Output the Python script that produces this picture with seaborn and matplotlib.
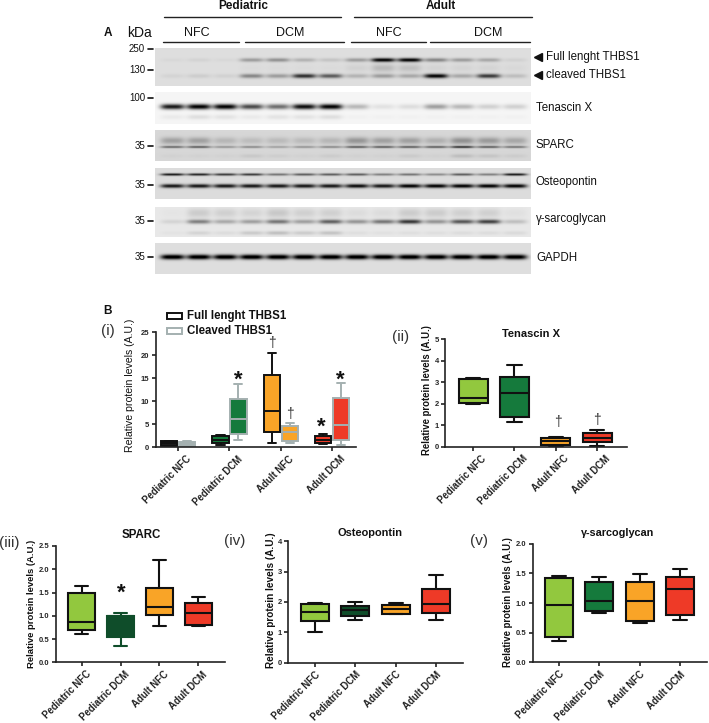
import matplotlib

matplotlib.use("Agg")
import matplotlib.pyplot as plt
from matplotlib.patches import Rectangle
from matplotlib.transforms import ScaledTranslation
import numpy as np
import pandas as pd
import seaborn as sns

W, H = 709, 723
GROUPS = ["Pediatric NFC", "Pediatric DCM", "Adult NFC", "Adult DCM"]

# five-number summaries: min, q1, median, q3, max
THBS_FULL = [
    [0.1, 0.2, 0.8, 1.2, 1.4],
    [0.5, 0.9, 1.6, 2.4, 2.6],
    [0.8, 3.2, 7.9, 15.8, 20.4],
    [0.6, 0.8, 1.5, 2.5, 2.9],
]
THBS_CLEAVED = [
    [0.1, 0.2, 0.9, 1.1, 1.2],
    [1.5, 2.9, 6.0, 10.4, 13.7],
    [0.9, 1.4, 3.2, 4.6, 5.2],
    [0.4, 1.5, 4.8, 10.6, 13.9],
]
TENASCIN = [
    [2.0, 2.05, 2.25, 3.15, 3.2],
    [1.15, 1.37, 2.5, 3.25, 3.8],
    [0.05, 0.1, 0.28, 0.4, 0.47],
    [0.05, 0.2, 0.4, 0.65, 0.77],
]
SPARC = [
    [0.6, 0.69, 0.86, 1.49, 1.64],
    [0.34, 0.54, 1.0, 1.0, 1.07],
    [0.77, 1.02, 1.18, 1.6, 2.2],
    [0.77, 0.81, 1.05, 1.28, 1.4],
]
OSTEOPONTIN = [
    [1.02, 1.36, 1.67, 1.94, 1.98],
    [1.42, 1.55, 1.72, 1.87, 2.0],
    [1.6, 1.62, 1.78, 1.9, 1.98],
    [1.42, 1.63, 1.92, 2.43, 2.9],
]
SARCOGLYCAN = [
    [0.36, 0.42, 0.97, 1.43, 1.46],
    [0.83, 0.86, 1.03, 1.35, 1.44],
    [0.67, 0.7, 1.03, 1.35, 1.49],
    [0.72, 0.79, 1.23, 1.44, 1.58],
]

# band darkness per lane on the blots (14 lanes)
FULL_BAND = [0.03, 0.05, 0.03, 0.30, 0.35, 0.20, 0.12, 0.30, 1.0, 1.0, 0.40, 0.30, 0.25, 0.06]
CLEAVED_BAND = [0.05, 0.08, 0.06, 0.40, 0.30, 0.80, 0.60, 0.20, 0.30, 0.25, 1.0, 0.25, 0.75, 0.15]
THBS_SMEAR = [0.0, 0.0, 0.0, 0.02, 0.02, 0.02, 0.02, 0.06, 0.18, 0.15, 0.05, 0.05, 0.05, 0.03]
TENASCIN_BAND = [0.9, 1.0, 1.0, 0.7, 0.55, 0.95, 1.0, 0.25, 0.08, 0.1, 0.35, 0.25, 0.15, 0.15]
TENASCIN_LOW = [0.05, 0.1, 0.08, 0.05, 0.08, 0.08, 0.1, 0.02, 0.02, 0.02, 0.02, 0.02, 0.02, 0.02]
SPARC_BROAD = [0.25, 0.25, 0.15, 0.12, 0.13, 0.13, 0.15, 0.3, 0.25, 0.25, 0.18, 0.32, 0.28, 0.22]
SPARC_SHARP = [0.5, 0.55, 0.3, 0.35, 0.25, 0.3, 0.35, 0.55, 0.55, 0.55, 0.55, 0.75, 0.55, 0.45]
SPARC_LOW = [0.03, 0.03, 0.03, 0.08, 0.05, 0.03, 0.06, 0.03, 0.03, 0.07, 0.03, 0.14, 0.1, 0.06]
OSTEO_UPPER = [0.85, 0.8, 0.7, 0.7, 0.45, 0.55, 0.55, 0.55, 0.4, 0.45, 0.35, 0.55, 0.4, 0.85]
OSTEO_LOWER = [0.9, 0.9, 0.9, 0.9, 0.9, 0.9, 0.9, 0.95, 0.9, 1.0, 1.0, 1.0, 1.0, 1.0]
GAMMA_BAND = [0.1, 0.5, 0.3, 0.35, 0.55, 0.35, 0.65, 0.4, 0.55, 0.85, 0.4, 0.7, 0.8, 0.2]
GAMMA_SMEAR = [0.02, 0.14, 0.12, 0.1, 0.16, 0.12, 0.12, 0.06, 0.06, 0.14, 0.14, 0.12, 0.12, 0.04]
GAMMA_LOW = [0.03, 0.1, 0.06, 0.15, 0.2, 0.14, 0.18, 0.05, 0.04, 0.05, 0.05, 0.06, 0.06, 0.07]
GAPDH_BAND = [1.0] * 14

LIME, GREEN, DEEP, ORANGE, RED = "#92c83e", "#157a3c", "#0f4d2a", "#f9a427", "#ee3a27"
GREY = "#a4b0b0"
INK = "#111111"


def px_axes(fig, left, right, bottom, top):
    return fig.add_axes([left / W, 1 - bottom / H, (right - left) / W, (bottom - top) / H])


def to_frame(rows, kind="full"):
    records = [
        {"group": g, "kind": kind, "value": v} for g, row in zip(GROUPS, rows) for v in row
    ]
    return pd.DataFrame(records)


def paint(container, faces, edges):
    for i, (face, edge) in enumerate(zip(faces, edges)):
        container.boxes[i].set_facecolor(face)
        container.boxes[i].set_edgecolor(edge)
        container.medians[i].set_color(edge)
        for line in container.whiskers[2 * i:2 * i + 2] + container.caps[2 * i:2 * i + 2]:
            line.set_color(edge)


def style_panel(ax, ylim, yticks, xlim, label_shift=0):
    ax.set_ylim(*ylim)
    ax.set_xlim(*xlim)
    ax.set_yticks(yticks)
    ax.set_xlabel("")
    ax.set_ylabel("")
    sns.despine(ax=ax)
    for side in ("left", "bottom"):
        ax.spines[side].set_linewidth(1.2)
        ax.spines[side].set_color("#222222")
    ax.tick_params(axis="y", length=3, width=1.2, labelsize=5.5, pad=1.5, color="#222222")
    ax.tick_params(axis="x", length=3, width=1.2, pad=2, color="#222222")
    ax.patch.set_alpha(0)
    for label in ax.get_yticklabels():
        label.set_fontweight("bold")
    shift = ScaledTranslation(label_shift / 100, 0, ax.figure.dpi_scale_trans)
    for label in ax.get_xticklabels():
        label.set(rotation=45, ha="right", rotation_mode="anchor", fontsize=6.9,
                  fontweight="bold", color="#222222")
        label.set_transform(label.get_transform() + shift)


def simple_panel(fig, rect, rows, faces, edges, ylim, yticks, xlim, label_shift, width=0.69):
    ax = px_axes(fig, *rect)
    sns.boxplot(data=to_frame(rows), x="group", y="value", whis=(0, 100), width=width,
                linewidth=1.5, linecolor=INK, ax=ax)
    paint(ax.containers[0], faces, edges)
    style_panel(ax, ylim, yticks, xlim, label_shift)
    return ax


def blot(fig, rect, bg, bands):
    left, right, bottom, top = rect
    ny, nx = bottom - top, right - left
    xs, ys = np.meshgrid(np.arange(nx) + 0.5 + left, np.arange(ny) + 0.5 + top)
    lanes = np.linspace(172.6, 515, 14)
    img = np.full((ny, nx), bg, dtype=float)
    for row_y, sigma, strength, values in bands:
        for lane, val in zip(lanes, values):
            across = np.exp(-(((xs - lane) / 12.0) ** 4))
            down = np.exp(-(((ys - row_y) / sigma) ** 2))
            img -= strength * val * across * down
    ax = px_axes(fig, *rect)
    sns.heatmap(np.clip(img, 0, 1), cmap="gray", vmin=0, vmax=1, cbar=False,
                xticklabels=False, yticklabels=False, ax=ax)
    return ax


sns.set_theme(style="ticks")
plt.rcParams["font.family"] = ["Liberation Sans", "DejaVu Sans"]

fig = plt.figure(figsize=(W / 100, H / 100), dpi=100)

# western blots
blot(fig, (155, 531, 86, 48), 0.87, [(60, 2.0, 0.85, FULL_BAND), (76, 2.2, 0.85, CLEAVED_BAND), (68, 4.0, 0.8, THBS_SMEAR)])
blot(fig, (155, 531, 124, 92), 0.96, [(106.7, 2.7, 0.95, TENASCIN_BAND), (117, 2.5, 0.9, TENASCIN_LOW)])
blot(fig, (155, 531, 161, 130), 0.84, [(140.7, 3.5, 0.85, SPARC_BROAD), (147, 1.2, 0.8, SPARC_SHARP), (156, 2.0, 0.7, SPARC_LOW)])
blot(fig, (155, 531, 199, 168), 0.86, [(174.5, 1.3, 0.85, OSTEO_UPPER), (186, 2.0, 0.85, OSTEO_LOWER)])
blot(fig, (155, 531, 237, 207), 0.91, [(221.7, 2.2, 0.8, GAMMA_BAND), (213, 5.0, 0.8, GAMMA_SMEAR), (233, 2.0, 0.8, GAMMA_LOW)])
blot(fig, (155, 531, 274, 243), 0.87, [(257, 2.5, 0.95, GAPDH_BAND)])

# panel (i)
ax_i = px_axes(fig, 155.7, 356, 447, 332.3)
thbs = pd.concat([to_frame(THBS_FULL, "full"), to_frame(THBS_CLEAVED, "cleaved")])
sns.boxplot(data=thbs, x="group", y="value", hue="kind", whis=(0, 100), width=0.7, gap=0.1,
            linewidth=1.4, linecolor=INK, legend=False, ax=ax_i)
paint(ax_i.containers[0], ["#1a1a1a", GREEN, ORANGE, RED], [INK] * 4)
paint(ax_i.containers[1], [GREY, GREEN, ORANGE, RED], [GREY] * 4)
style_panel(ax_i, (0, 25), [0, 5, 10, 15, 20, 25], (-0.44, 3.47), label_shift=8)

# panel (ii)
simple_panel(fig, (445, 627, 446.7, 339.3), TENASCIN, [LIME, GREEN, ORANGE, RED], [INK] * 4,
             (0, 5), [0, 1, 2, 3, 4, 5], (-0.68, 3.72), label_shift=8, width=0.7)

# panels (iii), (iv), (v)
simple_panel(fig, (55.7, 225, 662.3, 546), SPARC, [LIME, DEEP, ORANGE, RED], [INK, DEEP, INK, INK],
             (0, 2.5), [0, 0.5, 1.0, 1.5, 2.0, 2.5], (-0.67, 3.69), label_shift=4)
simple_panel(fig, (288.3, 463, 662.7, 541.3), OSTEOPONTIN, [LIME, DEEP, ORANGE, RED], [INK] * 4,
             (0, 4), [0, 1, 2, 3, 4], (-0.66, 3.67), label_shift=0)
simple_panel(fig, (532.7, 707, 662.3, 543.7), SARCOGLYCAN, [LIME, GREEN, ORANGE, RED], [INK] * 4,
             (0, 2), [0, 0.5, 1.0, 1.5, 2.0], (-0.65, 3.66), label_shift=0)

# annotation layer in pixel coordinates
over = fig.add_axes([0, 0, 1, 1])
over.set_xlim(0, W)
over.set_ylim(H, 0)
over.axis("off")
over.patch.set_alpha(0)


def note(x, y, s, size=8, weight="normal", ha="center", rotation=0, color="#111111"):
    over.text(x, y, s, fontsize=size, fontweight=weight, ha=ha, va="center",
              rotation=rotation, color=color)


for x0, x1, y in [(164, 341, 17), (354, 532, 16.5), (163, 239, 42), (245, 344, 42), (351, 426, 42), (430, 530, 42)]:
    over.plot([x0, x1], [y, y], color="#222222", lw=1.0)

note(243, 6, "Pediatric", 8.5, "bold")
note(441, 6, "Adult", 8.5, "bold")
for x, s in [(197, "NFC"), (290, "DCM"), (389, "NFC"), (488, "DCM")]:
    note(x, 33, s, 9)
note(108, 33, "A", 8.5, "bold")
note(140, 33, "kDa", 10)

for y, s in [(49, "250"), (70, "130"), (98, "100"), (146, "35"), (185, "35"), (221, "35"), (257, "35")]:
    note(145, y, s, 7, ha="right")
    over.plot([148, 153], [y, y], color="#111111", lw=1.2)

for y, s in [(57, "Full lenght THBS1"), (75, "cleaved THBS1")]:
    over.plot([538], [y], marker="<", color="#111111", ms=5.5)
    note(546, y, s, 8.3, ha="left")
for y, s in [(108, "Tenascin X"), (145, "SPARC"), (182, "Osteopontin"), (219, "γ-sarcoglycan"), (258, "GAPDH")]:
    note(536, y, s, 8.3, ha="left")

note(107, 311, "B", 8.5, "bold")
for x, y, s in [(108, 331, "(i)"), (401, 337, "(ii)"), (9, 543, "(iii)"), (235, 541, "(iv)"), (479, 541, "(v)")]:
    note(x, y, s, 11, color="#333333")

for y, face, edge, s in [(316, "white", INK, "Full lenght THBS1"), (331, "white", GREY, "Cleaved THBS1")]:
    over.add_patch(Rectangle((167, y - 3), 15, 6, facecolor=face, edgecolor=edge, lw=1.4))
    note(187, y, s, 8.3, "bold", ha="left")

for x, y, s, size in [(531, 334, "Tenascin X", 8), (141, 535, "SPARC", 8.3), (370, 533, "Osteopontin", 7.9), (618, 533, "γ-sarcoglycan", 7.8)]:
    note(x, y, s, size, "bold")

note(130, 385, "Relative protein levels (A.U.)", 7.6, rotation=90)
note(427, 390, "Relative protein levels (A.U.)", 6.9, "bold", rotation=90)
note(32, 604, "Relative protein levels (A.U.)", 6.8, "bold", rotation=90)
note(271, 600, "Relative protein levels (A.U.)", 7.2, "bold", rotation=90)
note(508, 602, "Relative protein levels (A.U.)", 6.9, "bold", rotation=90)

for x, y in [(238, 376), (321, 423), (340, 376), (121, 589)]:
    note(x, y + 4, "*", 16, "bold")
for x, y in [(272, 343), (290, 414), (558, 422), (597, 420)]:
    note(x, y, "†", 10, color="#333333")

fig.savefig("out.png", dpi=100)
